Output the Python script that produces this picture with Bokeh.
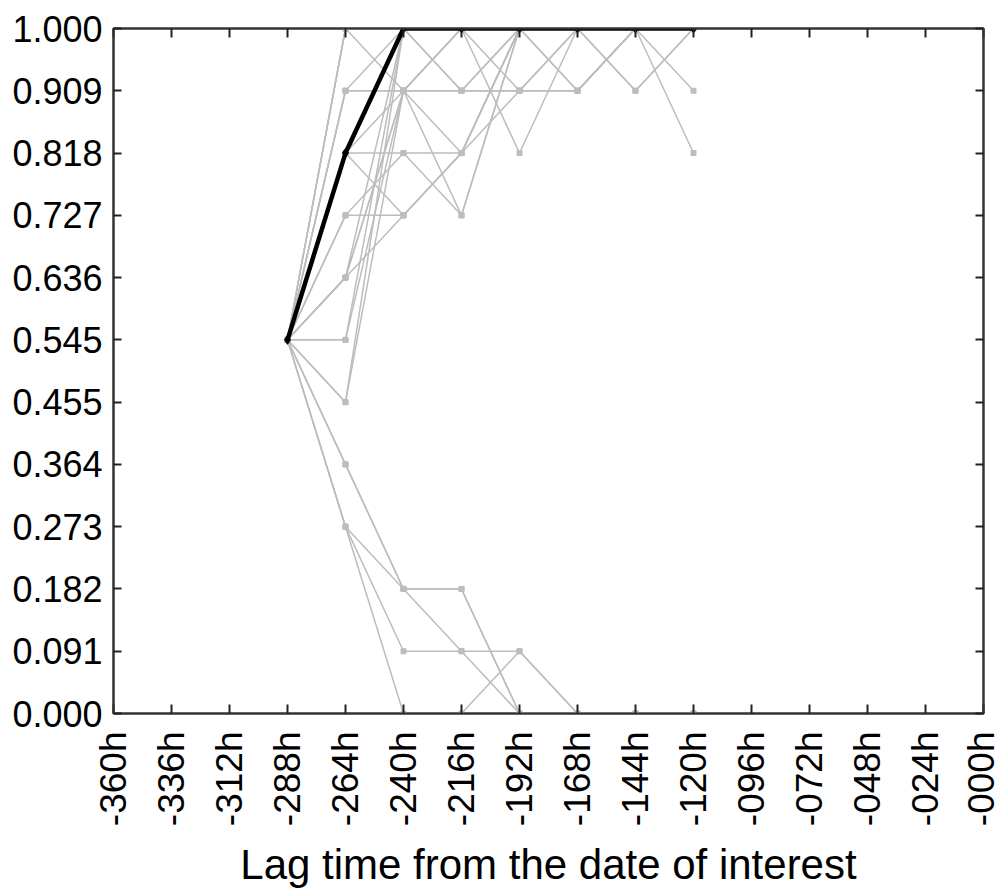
import math
from bokeh.plotting import figure
from bokeh.models import FixedTicker, LinearAxis, Range1d, ColumnDataSource
from bokeh.embed import file_html
from bokeh.resources import INLINE

# ---- data ----
lag_hours = [-288, -264, -240, -216, -192, -168, -144, -120]
x_ticks = [-360, -336, -312, -288, -264, -240, -216, -192, -168, -144, -120, -96, -72, -48, -24, 0]
x_tick_labels = ["-360h", "-336h", "-312h", "-288h", "-264h", "-240h", "-216h", "-192h",
                 "-168h", "-144h", "-120h", "-096h", "-072h", "-048h", "-024h", "-000h"]
y_ticks = [0/11, 1/11, 2/11, 3/11, 4/11, 5/11, 6/11, 7/11, 8/11, 9/11, 10/11, 11/11]
y_tick_labels = ["0.000", "0.091", "0.182", "0.273", "0.364", "0.455", "0.545",
                 "0.636", "0.727", "0.818", "0.909", "1.000"]

# fraction of members (out of 11) at each lag, for each gray member
member_01 = [6, 11, 11, 10, 11, 10, 11, 10]
member_02 = [6, 10, 10, 10, 10, 10, 11, 11]
member_03 = [6, 10, 11, 11, 11, 11, 10, 11]
member_04 = [6, 9, 9, 9, 11, 11, 11, 9]
member_05 = [6, 8, 8, 9, 10, 10, 11, 11]
member_06 = [6, 8, 9, 8, 11, 11, 11, 11]
member_07 = [6, 9, 8, 9, 11, 11, 11, 11]
member_08 = [6, 7, 10, 11, 9, 11, 10, 11]
member_09 = [6, 7, 11, 10, 10, 11, 11, 11]
member_10 = [6, 6, 11, 11, 11, 10, 11, 11]
member_11 = [6, 5, 11, 11, 11, 11, 11, 11]
member_12 = [6, 7, 8, 9, 11, 11, 11, 11]
member_13 = [6, 11, 11, 11, 11, 11, 11, 11]
member_14 = [6, 10, 10, 11, 10, 10, 11, 11]
member_15 = [6, 9, 10, 11, 11, 11, 11, 11]
member_16 = [6, 7, 10, 10, 11, 11, 11, 11]
member_17 = [6, 6, 10, 9, 11, 11, 11, 11]
member_18 = [6, 5, 10, 8, 11, 11, 11, 11]
member_19 = [6, 4, 2, 2, 0, 0, 0, 0]
member_20 = [6, 3, 2, 1, 0, 0, 0, 0]
member_21 = [6, 3, 1, 1, 1, 0, 0, 0]
member_22 = [6, 3, 0, 0, 1, 0, 0, 0]
member_23 = [6, 4, 2, 2, 0, 0, 0, 0]
member_24 = [6, 11, 10, 10, 10, 11, 11, 11]
highlight = [6, 9, 11, 11, 11, 11, 11, 11]

gray_members = [member_01, member_02, member_03, member_04, member_05, member_06,
                member_07, member_08, member_09, member_10, member_11, member_12,
                member_13, member_14, member_15, member_16, member_17, member_18,
                member_19, member_20, member_21, member_22, member_23, member_24]

FONT = "Liberation Sans"

p = figure(width=1001, height=894, output_backend="svg", toolbar_location=None,
           x_range=Range1d(-360, 0), y_range=Range1d(0, 1),
           min_border_left=113, min_border_right=18, min_border_top=28, min_border_bottom=181)
p.xgrid.visible = False
p.ygrid.visible = False
p.outline_line_color = "#333333"
p.outline_line_width = 2
p.background_fill_color = "white"
p.border_fill_color = "white"

GRAY = "#bdbdbd"
for m in gray_members:
    src = ColumnDataSource(dict(x=lag_hours, y=[v / 11 for v in m]))
    p.line("x", "y", source=src, line_color=GRAY, line_width=1.5)
    p.scatter("x", "y", source=src, marker="square", size=5, fill_color=GRAY, line_color=GRAY)

hsrc = ColumnDataSource(dict(x=lag_hours, y=[v / 11 for v in highlight]))
p.line("x", "y", source=hsrc, line_color="black", line_width=4.5)
p.scatter("x", "y", source=hsrc, marker="diamond", size=9, fill_color="black", line_color="black")

# bottom axis
xa = p.xaxis[0]
xa.ticker = FixedTicker(ticks=x_ticks)
xa.major_label_overrides = {t: l for t, l in zip(x_ticks, x_tick_labels)}
xa.major_label_orientation = math.pi / 2
xa.major_label_text_font = FONT
xa.major_label_text_font_size = "37px"
xa.major_label_text_color = "black"
xa.major_label_standoff = 18
xa.major_tick_in = 9
xa.major_tick_out = 0
xa.minor_tick_in = 0
xa.minor_tick_out = 0
xa.axis_line_color = "#333333"
xa.axis_line_width = 2
xa.major_tick_line_color = "#222222"
xa.major_tick_line_width = 2
xa.axis_label = "Lag time from the date of interest"
xa.axis_label_text_font = FONT
xa.axis_label_text_font_size = "42px"
xa.axis_label_text_font_style = "normal"
xa.axis_label_text_color = "black"
xa.axis_label_standoff = 12

ya = p.yaxis[0]
ya.ticker = FixedTicker(ticks=y_ticks)
ya.major_label_overrides = {t: l for t, l in zip(y_ticks, y_tick_labels)}
ya.major_label_text_font = FONT
ya.major_label_text_font_size = "36px"
ya.major_label_text_color = "black"
ya.major_label_standoff = 11
ya.major_tick_in = 8
ya.major_tick_out = 0
ya.minor_tick_in = 0
ya.minor_tick_out = 0
ya.axis_line_color = "#333333"
ya.axis_line_width = 2
ya.major_tick_line_color = "#222222"
ya.major_tick_line_width = 2

# mirrored ticks on top and right (no labels)
top = LinearAxis(ticker=FixedTicker(ticks=x_ticks),
                 major_label_overrides={t: "" for t in x_ticks},
                 major_tick_in=9, major_tick_out=0, minor_tick_in=0, minor_tick_out=0,
                 axis_line_color="#333333", axis_line_width=2,
                 major_tick_line_color="#222222", major_tick_line_width=2)
right = LinearAxis(ticker=FixedTicker(ticks=y_ticks),
                   major_label_overrides={t: "" for t in y_ticks},
                   major_tick_in=8, major_tick_out=0, minor_tick_in=0, minor_tick_out=0,
                   axis_line_color="#333333", axis_line_width=2,
                   major_tick_line_color="#222222", major_tick_line_width=2)
p.add_layout(top, "above")
p.add_layout(right, "right")

open("out.html", "w").write(file_html(p, INLINE))
